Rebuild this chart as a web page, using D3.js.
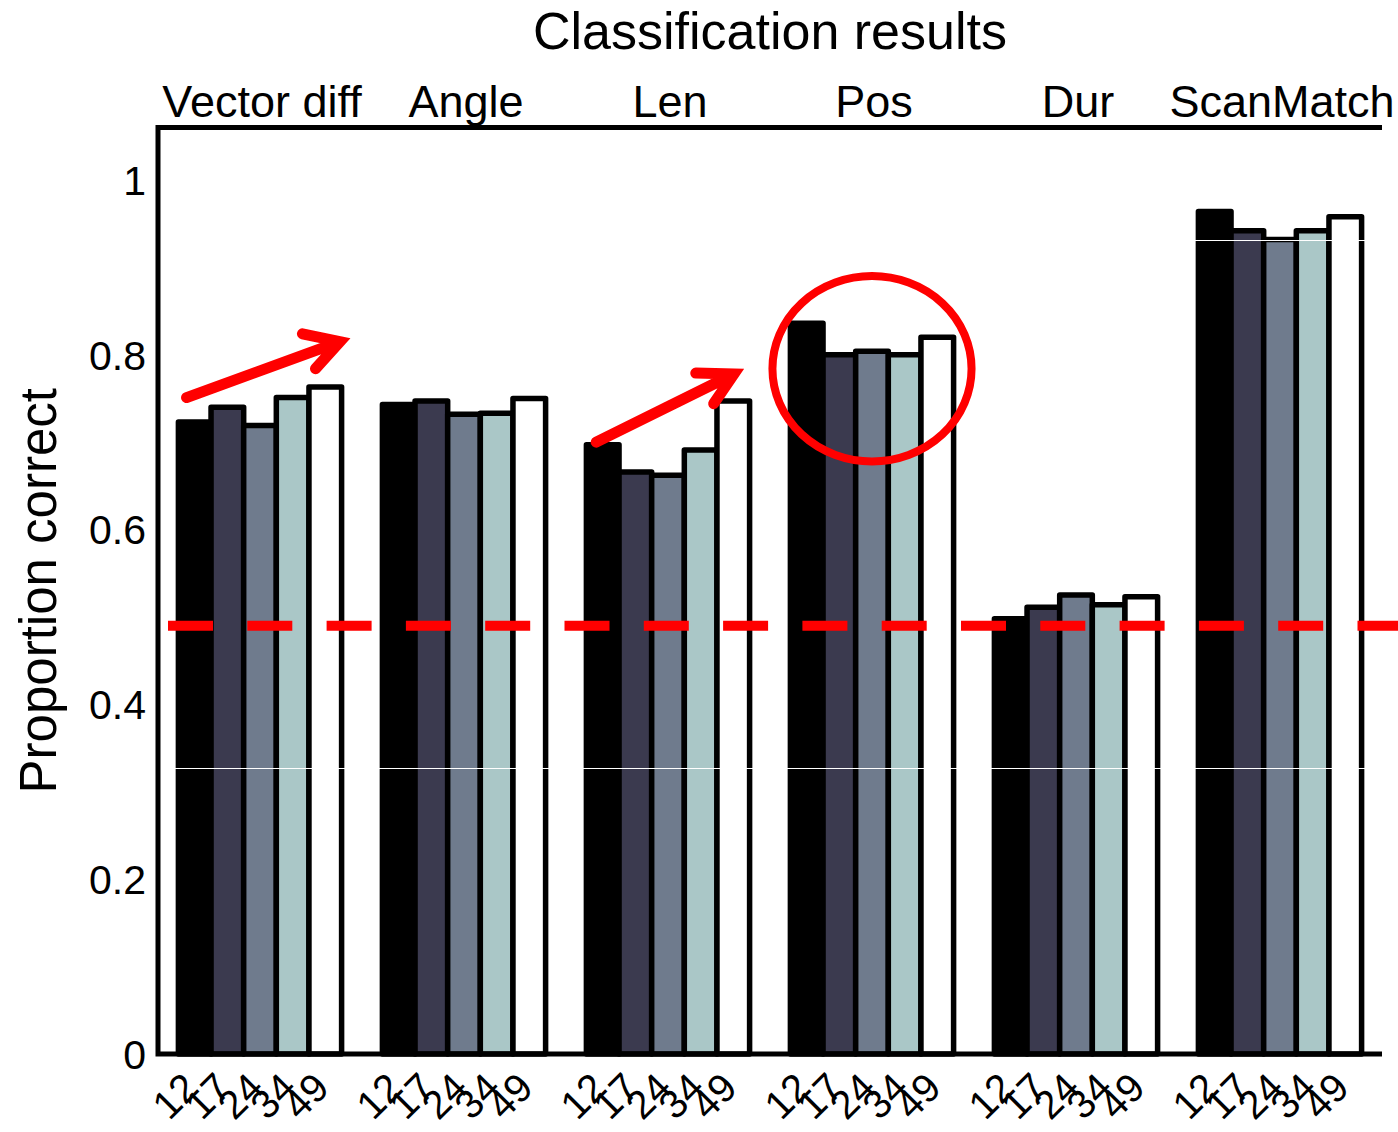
<!DOCTYPE html>
<html><head><meta charset="utf-8">
<script src="https://cdn.jsdelivr.net/npm/d3@7"></script>
<style>body{margin:0;background:#fff}svg{display:block}text{font-family:"Liberation Sans",Arial,sans-serif;fill:#000}</style>
</head><body><svg id="c" width="1398" height="1132"></svg>
<script>
const groups = ["Vector diff","Angle","Len","Pos","Dur","ScanMatch"];
const sizes = ["12","17","24","34","49"];
const vectorDiff = [0.723, 0.740, 0.719, 0.751, 0.763];
const angle      = [0.743, 0.747, 0.732, 0.733, 0.750];
const len        = [0.697, 0.666, 0.662, 0.691, 0.747];
const pos        = [0.836, 0.800, 0.804, 0.800, 0.820];
const dur        = [0.498, 0.511, 0.525, 0.514, 0.523];
const scanMatch  = [0.964, 0.942, 0.932, 0.942, 0.958];
const yTicks = [0, 0.2, 0.4, 0.6, 0.8, 1];
const yTickLabels = ["0","0.2","0.4","0.6","0.8","1"];
const chance = 0.49;
const barColors = ["#000000","#3b3a4f","#6f7b8d","#aac7c7","#ffffff"];

const seriesByGroup = [vectorDiff, angle, len, pos, dur, scanMatch];
const svg = d3.select("#c");
const L = 158, R = 1382, T = 127.5, B = 1054;
const x = d3.scaleBand().domain(groups).range([L, R]).paddingInner(0.2).paddingOuter(0.1);
const xs = d3.scaleBand().domain(sizes).range([0, x.bandwidth()]);
const y = d3.scaleLinear().domain([0, 1.06]).range([B, T]);

// bars
groups.forEach((g, gi) => {
  const gg = svg.append("g");
  sizes.forEach((s, si) => {
    gg.append("rect")
      .attr("x", x(g) + xs(s)).attr("width", xs.bandwidth())
      .attr("y", y(seriesByGroup[gi][si])).attr("height", y(0) - y(seriesByGroup[gi][si]))
      .attr("fill", barColors[si]).attr("stroke", "#000").attr("stroke-width", 5.5)
      .attr("stroke-linejoin", "round");
  });
});

// scan artifact lines
[0.931, 0.327].forEach(v => {
  svg.append("line").attr("x1", L - 4).attr("x2", R).attr("y1", Math.round(y(v)) + 0.5).attr("y2", Math.round(y(v)) + 0.5)
    .attr("stroke", "#fff").attr("stroke-width", 1.2);
});

// axes lines
svg.append("path").attr("d", `M${R},${T} H${L} V${B} H${R}`).attr("fill", "none")
  .attr("stroke", "#000").attr("stroke-width", 5).attr("stroke-linejoin", "miter");

// y tick labels
svg.append("g").selectAll("text").data(yTicks).join("text")
  .attr("x", 146).attr("y", d => y(d)).attr("dy", "0.36em").attr("text-anchor", "end")
  .attr("font-size", 41).text((d, i) => yTickLabels[i]);

// y label
svg.append("text").attr("transform", `translate(56,${(y(0) + y(1.06)) / 2}) rotate(-90)`)
  .attr("text-anchor", "middle").attr("font-size", 51).text("Proportion correct");

// title
svg.append("text").attr("x", 770).attr("y", 49).attr("text-anchor", "middle").attr("font-size", 52).text("Classification results");

// group labels
svg.append("g").selectAll("text").data(groups).join("text")
  .attr("x", d => x(d) + x.bandwidth() / 2 + 2).attr("y", 117).attr("text-anchor", "middle")
  .attr("font-size", 45).text(d => d);

// x tick labels (rotated)
groups.forEach(g => {
  sizes.forEach(s => {
    const cx = x(g) + xs(s) + xs.bandwidth() / 2;
    svg.append("text").attr("transform", `translate(${cx + 6},1090) rotate(-45)`)
      .attr("text-anchor", "end").attr("font-size", 40).text(s);
  });
});

// chance line
svg.append("line").attr("x1", 168).attr("x2", 1398).attr("y1", y(chance)).attr("y2", y(chance))
  .attr("stroke", "#ff0000").attr("stroke-width", 10).attr("stroke-dasharray", "45,34.3");

// annotations
const gx = (gi, frac) => x(groups[gi]) + frac * x.bandwidth();
function arrow(p0, tip, h1, h2) {
  svg.append("path")
    .attr("d", `M${p0[0]},${p0[1]}L${tip[0]},${tip[1]}M${h1[0]},${h1[1]}L${tip[0]},${tip[1]}L${h2[0]},${h2[1]}`)
    .attr("fill", "none").attr("stroke", "#ff0000").attr("stroke-width", 11)
    .attr("stroke-linecap", "round").attr("stroke-linejoin", "miter");
}
arrow([gx(0, 0.05), y(0.751)], [gx(0, 0.99), y(0.815)], [gx(0, 0.76), y(0.824)], [gx(0, 0.84), y(0.784)]);
arrow([gx(2, 0.06), y(0.700)], [gx(2, 0.904), y(0.778)], [gx(2, 0.67), y(0.779)], [gx(2, 0.78), y(0.744)]);
svg.append("ellipse").attr("cx", x("Pos") + x.bandwidth() / 2).attr("cy", y(0.784))
  .attr("rx", x.bandwidth() * 0.61).attr("ry", y(0) - y(0.106))
  .attr("fill", "none").attr("stroke", "#ff0000").attr("stroke-width", 8);
</script></body></html>
